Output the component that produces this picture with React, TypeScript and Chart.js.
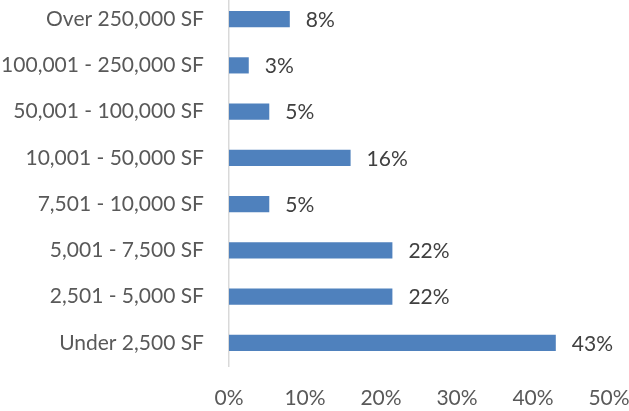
import React, { useEffect, useRef } from "react";
import { Chart, registerables } from "chart.js";

Chart.register(...registerables);

const categories = [
  "Over 250,000 SF",
  "100,001 - 250,000 SF",
  "50,001 - 100,000 SF",
  "10,001 - 50,000 SF",
  "7,501 - 10,000 SF",
  "5,001 - 7,500 SF",
  "2,501 - 5,000 SF",
  "Under 2,500 SF",
];
const values = [8, 2.6, 5.3, 16, 5.3, 21.5, 21.5, 43];
const valueLabels = ["8%", "3%", "5%", "16%", "5%", "22%", "22%", "43%"];
const xTicks = [0, 10, 20, 30, 40, 50];

const FONT = "Lato, 'Open Sans', sans-serif";
const FS = 21;

const labelPlugin = {
  id: "barLabels",
  afterDatasetsDraw(chart: any) {
    const ctx = chart.ctx;
    const meta = chart.getDatasetMeta(0);
    ctx.save();
    ctx.font = `${FS}px ${FONT}`;
    ctx.fillStyle = "#404040";
    ctx.textAlign = "left";
    ctx.textBaseline = "middle";
    meta.data.forEach((el: any, i: number) => {
      ctx.fillText(valueLabels[i], el.x + 16, el.y + 1);
    });
    ctx.restore();
  },
};

export default function App() {
  const ref = useRef<HTMLCanvasElement>(null);
  useEffect(() => {
    document.body.style.margin = "0";
    const chart = new Chart(ref.current!, {
      type: "bar",
      data: {
        labels: categories,
        datasets: [
          {
            data: values,
            backgroundColor: "#4F81BD",
            borderWidth: 0,
            categoryPercentage: 1,
            barPercentage: 0.35,
          },
        ],
      },
      options: {
        indexAxis: "y",
        animation: false,
        responsive: false,
        maintainAspectRatio: false,
        layout: { autoPadding: false, padding: { left: 0, right: 20, top: 0, bottom: 0 } },
        plugins: { legend: { display: false }, tooltip: { enabled: false } },
        scales: {
          x: {
            min: 0,
            max: 50,
            afterBuildTicks: (scale: any) => {
              scale.ticks = xTicks.map((v) => ({ value: v }));
            },
            grid: { display: false, drawTicks: false },
            border: { display: false },
            ticks: {
              padding: 20,
              color: "#595959",
              font: { family: FONT, size: FS },
              maxRotation: 0,
              callback: (v: any) => v + "%",
            },
            afterFit: (scale: any) => {
              scale.height = 45;
              scale.paddingLeft = 0;
              scale.paddingRight = 0;
              scale.paddingTop = 0;
              scale.paddingBottom = 0;
            },
          },
          y: {
            grid: { display: false, drawTicks: false },
            border: { display: true, color: "#D9D9D9", width: 1.5 },
            ticks: {
              padding: 25,
              color: "#595959",
              font: { family: FONT, size: FS },
            },
            afterFit: (scale: any) => {
              scale.width = 229;
              scale.paddingLeft = 0;
              scale.paddingRight = 0;
              scale.paddingTop = 0;
              scale.paddingBottom = 0;
            },
          },
        },
      },
      plugins: [labelPlugin],
    });
    return () => chart.destroy();
  }, []);
  return (
    <div style={{ position: "fixed", left: 0, top: -4, width: 629, height: 415 }}>
      <canvas ref={ref} width={629} height={415} style={{ width: 629, height: 415 }} />
    </div>
  );
}
